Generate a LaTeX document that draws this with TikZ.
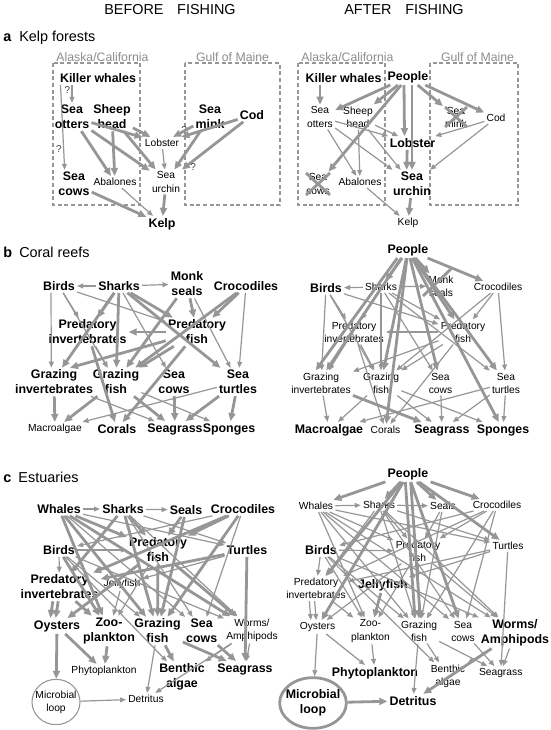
\documentclass[tikz,border=0pt]{standalone}
\usepackage{fontspec}
\setmainfont{Liberation Sans}
\usepackage{xcolor}
\usepackage{tikz}
\usetikzlibrary{arrows.meta, shapes.geometric}

\definecolor{webgrey}{RGB}{150,150,150}
\definecolor{labelgrey}{RGB}{140,140,140}

\begin{document}
\begin{tikzpicture}[
    x=0.75pt, y=-0.75pt,
    big/.style={font=\fontsize{9.3}{11.2}\selectfont\bfseries, align=center, inner sep=1.5pt},
    small/.style={font=\fontsize{7.7}{9.8}\selectfont, align=center, inner sep=1.5pt},
    thn/.style={draw=webgrey, line width=0.9pt, -{Triangle[length=4.5pt, width=3.6pt]}},
    thk/.style={draw=webgrey, line width=2.1pt, -{Triangle[length=6pt, width=5.2pt]}},
    region/.style={draw=webgrey, dash pattern=on 3pt off 2pt, line width=0.8pt},
    regionlabel/.style={font=\fontsize{9.2}{11}\selectfont, text=labelgrey, inner sep=0pt},
    heading/.style={font=\fontsize{10.8}{13}\selectfont, inner sep=0pt},
    qmark/.style={font=\fontsize{7.5}{9}\selectfont, text=black!75, inner sep=1pt},
    strike/.style={draw=webgrey, line width=2.1pt},
    loopring/.style={ellipse, draw=webgrey, inner sep=-6pt}
]
    \useasboundingbox (0,0) rectangle (550,730);

    % Headings
    \node[heading, anchor=base] (before) at (170,15) {BEFORE\hspace{0.95em}FISHING};
    \node[heading, anchor=base] (after) at (404,15) {AFTER\hspace{0.95em}FISHING};
    \node[heading, anchor=base west] (ttlA) at (3,42) {\textbf{a}\hspace{0.55em}Kelp forests};
    \node[heading, anchor=base west] (ttlB) at (3,258) {\textbf{b}\hspace{0.5em}Coral reefs};
    \node[heading, anchor=base west] (ttlC) at (3,482) {\textbf{c}\hspace{0.5em}Estuaries};

    % ---------------- a: Kelp forests, before ----------------
    \draw[region] (53,63) rectangle (140,205);
    \draw[region] (185,63) rectangle (280,205);
    \node[regionlabel] (aLak) at (102.5,57) {Alaska/California};
    \node[regionlabel] (aLgm) at (232.5,57) {Gulf of Maine};

    \node[big] (aLkw) at (98,78) {Killer whales};
    \node[big] (aLotter) at (72,117) {Sea\\otters};
    \node[big] (aLsheep) at (112,117) {Sheep\\head};
    \node[big] (aLmink) at (210,117) {Sea\\mink};
    \node[big] (aLcod) at (252,115) {Cod};
    \node[small] (aLlob) at (162,143) {Lobster};
    \node[small] (aLurch) at (166,182) {Sea\\urchin};
    \node[big] (aLcow) at (74,184) {Sea\\cows};
    \node[small] (aLabal) at (115,182) {Abalones};
    \node[big] (aLkelp) at (162,224) {Kelp};

    \draw[thn] (aLkw.south -| aLotter) -- (aLotter) node[pos=0.3, left, qmark] {?};
    \draw[thn] ([xshift=2pt]aLkw.south west) -- ([xshift=-7pt]aLcow.north) node[pos=0.75, left, qmark] {?};
    \draw[thk] (aLotter) -- (aLabal);
    \draw[thk] (aLotter) -- (aLlob);
    \draw[thk] (aLotter) -- (aLurch);
    \draw[thk] (aLsheep) -- (aLabal);
    \draw[thk] (aLsheep) -- (aLlob);
    \draw[thk] (aLsheep) -- (aLurch);
    \draw[thk] (aLcod) -- (aLlob) node[pos=0.95, above, qmark] {?};
    \draw[thk] (aLmink) -- (aLlob);
    \draw[thk] (aLmink) -- (aLurch);
    \draw[thk] (aLcod) -- (aLurch) node[pos=0.95, right=2pt, qmark] {?};
    \draw[thn] (aLlob) -- (aLurch);
    \draw[thk] (aLurch) -- (aLkelp);
    \draw[thk] (aLcow) -- (aLkelp);
    \draw[thn] (aLabal) -- (aLkelp);

    % ---------------- a: Kelp forests, after ----------------
    \draw[region] (298,63) rectangle (385,205);
    \draw[region] (430,63) rectangle (518,205);
    \node[regionlabel] (aRak) at (347.5,57) {Alaska/California};
    \node[regionlabel] (aRgm) at (477.5,57) {Gulf of Maine};

    \node[big] (aRkw) at (343.5,78) {Killer whales};
    \node[big] (aRpeople) at (408,77) {People};
    \node[small] (aRotter) at (320,117) {Sea\\otters};
    \node[small] (aRsheep) at (358,117) {Sheep\\head};
    \node[small] (aRmink) at (456,117) {Sea\\mink};
    \node[small] (aRcod) at (496,118) {Cod};
    \node[big] (aRlob) at (412.5,143) {Lobster};
    \node[big] (aRurch) at (412,184) {Sea\\urchin};
    \node[small] (aRcow) at (318,184) {Sea\\cows};
    \node[small] (aRabal) at (360,182) {Abalones};
    \node[small] (aRkelp) at (408,223) {Kelp};

    \draw[thk] (aRkw.south -| aRotter) -- (aRotter);
    \draw[thk] (aRpeople) -- (aRotter);
    \draw[thk] (aRpeople) -- (aRsheep);
    \draw[thk] (aRpeople) -- (aRcow);
    \draw[thk] ([xshift=-3pt]aRpeople.south) -- ([xshift=-6pt]aRlob.north);
    \draw[thk] ([xshift=3pt]aRpeople.south) -- (aRurch.north);
    \draw[thk] ([xshift=-4pt]aRlob.south) -- ([xshift=-4pt]aRurch.north);
    \draw[thk] (aRpeople) -- (aRmink);
    \draw[thk] (aRpeople) -- (aRcod);
    \draw[thn] (aRotter) -- (aRlob);
    \draw[thn] (aRotter) -- (aRurch);
    \draw[thn] (aRotter) -- (aRabal);
    \draw[thn] (aRsheep) -- (aRabal);
    \draw[thn] (aRsheep) -- (aRlob);
    \draw[thn] (aRsheep) -- (aRurch);
    \draw[thn] (aRcod) -- (aRlob);
    \draw[thn] (aRcod) -- (aRurch);
    \draw[thk] (aRurch) -- (aRkelp);
    \draw[thn] (aRabal) -- (aRkelp);

    \draw[strike] ([shift={(-11,-10)}]aRmink.center) -- ([shift={(11,10)}]aRmink.center);
    \draw[strike] ([shift={(-11,10)}]aRmink.center) -- ([shift={(11,-10)}]aRmink.center);
    \draw[strike] ([shift={(-12,-11)}]aRcow.center) -- ([shift={(12,11)}]aRcow.center);
    \draw[strike] ([shift={(-12,11)}]aRcow.center) -- ([shift={(12,-11)}]aRcow.center);

    % ---------------- b: Coral reefs, before ----------------
    \node[big] (bLbirds) at (59,286) {Birds};
    \node[big] (bLsharks) at (119,286) {Sharks};
    \node[big] (bLmonk) at (187,284) {Monk\\seals};
    \node[big] (bLcroc) at (246,286) {Crocodiles};
    \node[big] (bLpinv) at (87.5,332) {Predatory\\invertebrates};
    \node[big] (bLpfish) at (197,332) {Predatory\\fish};
    \node[big] (bLginv) at (54,382) {Grazing\\invertebrates};
    \node[big] (bLgfish) at (116,382) {Grazing\\fish};
    \node[big] (bLcow) at (174,382) {Sea\\cows};
    \node[big] (bLturt) at (238,382) {Sea\\turtles};
    \node[small] (bLmacro) at (55,429) {Macroalgae};
    \node[big] (bLcoral) at (117,429) {Corals};
    \node[big] (bLgrass) at (175,429) {Seagrass};
    \node[big] (bLspong) at (229,429) {Sponges};

    \draw[thn] (bLsharks) -- (bLbirds);
    \draw[thn] (bLsharks) -- (bLmonk);
    \draw[thn] (bLbirds) -- (bLpinv);
    \draw[thn] (bLbirds) -- (bLpfish);
    \draw[thn] ([xshift=-6pt]bLbirds.south) -- ([xshift=-2pt]bLginv.north);
    \draw[thn] (bLbirds) -- (bLgfish);
    \draw[thk] (bLsharks) -- (bLpinv);
    \draw[thk] (bLsharks) -- ([xshift=6pt]bLginv.north);
    \draw[thk] (bLsharks) -- (bLgfish);
    \draw[thk] (bLsharks) -- (bLpfish);
    \draw[thn] (bLsharks) -- (bLcow);
    \draw[thk] (bLsharks) -- (bLturt);
    \draw[thk] (bLmonk) -- (bLpfish);
    \draw[thk] (bLmonk) -- (bLgfish);
    \draw[thn] (bLmonk) -- (bLturt);
    \draw[thk] (bLcroc) -- (bLpfish);
    \draw[thk] (bLcroc) -- (bLgfish);
    \draw[thn] (bLcroc) -- (bLturt);
    \draw[thk] (bLpfish) -- (bLpinv);
    \draw[thk] (bLpfish) -- ([xshift=12pt]bLginv.north);
    \draw[thk] (bLpfish) -- (bLgfish);
    \draw[thk] (bLpfish) -- (bLcoral);
    \draw[thk] (bLpinv) -- (bLcoral);
    \draw[thn] (bLpinv) -- (bLgfish);
    \draw[thk] (bLginv) -- (bLmacro);
    \draw[thn] (bLginv) -- (bLgrass);
    \draw[thk] (bLgfish) -- (bLmacro);
    \draw[thk] (bLgfish) -- (bLgrass);
    \draw[thn] (bLgfish) -- (bLspong);
    \draw[thk] (bLcow) -- (bLgrass);
    \draw[thk] (bLturt) -- (bLgrass);
    \draw[thk] (bLturt) -- (bLspong);
    \draw[thn] (bLturt) -- (bLmacro);

    % ---------------- b: Coral reefs, after ----------------
    \node[big] (bRpeople) at (408,250) {People};
    \node[big] (bRbirds) at (326,288) {Birds};
    \node[small] (bRsharks) at (381,287) {Sharks};
    \node[small] (bRmonk) at (441,286) {Monk\\seals};
    \node[small] (bRcroc) at (498,287) {Crocodiles};
    \node[small] (bRpinv) at (354,332) {Predatory\\invertebrates};
    \node[small] (bRpfish) at (463,332) {Predatory\\fish};
    \node[small] (bRginv) at (321,383) {Grazing\\invertebrates};
    \node[small] (bRgfish) at (381,383) {Grazing\\fish};
    \node[small] (bRcow) at (440.5,383) {Sea\\cows};
    \node[small] (bRturt) at (506,383) {Sea\\turtles};
    \node[big] (bRmacro) at (329,430) {Macroalgae};
    \node[small] (bRcoral) at (385.5,430) {Corals};
    \node[big] (bRgrass) at (442,430) {Seagrass};
    \node[big] (bRspong) at (503,430) {Sponges};

    \draw[thk] (bRpeople) -- (bRsharks);
    \draw[thk] ([xshift=-8pt]bRpeople.south) -- ([xshift=-4pt]bRginv.north);
    \draw[thk] ([xshift=-5pt]bRpeople.south) -- ([xshift=4pt]bRginv.north);
    \draw[thk] (bRpeople) -- (bRgfish);
    \draw[thk] (bRpeople) -- (bRcoral);
    \draw[thk] (bRpeople) -- (bRcow);
    \draw[thk] (bRpeople) -- (bRmonk);
    \draw[thk] (bRpeople) -- (bRpfish);
    \draw[thk] (bRpeople) -- (bRturt);
    \draw[thk] (bRpeople) -- (bRspong);
    \draw[thk] (bRpeople) -- (bRcroc);
    \draw[thn] (bRsharks) -- (bRbirds);
    \draw[thn] (bRsharks) -- (bRmonk);
    \draw[thn] (bRbirds) -- (bRpinv);
    \draw[thn] (bRbirds) -- (bRpfish);
    \draw[thn] (bRbirds) -- (bRginv);
    \draw[thn] (bRbirds) -- (bRgfish);
    \draw[thn] (bRsharks) -- (bRpinv);
    \draw[thn] (bRsharks) -- (bRginv);
    \draw[thn] (bRsharks) -- (bRgfish);
    \draw[thn] (bRsharks) -- (bRpfish);
    \draw[thn] (bRsharks) -- (bRcow);
    \draw[thn] (bRsharks) -- (bRturt);
    \draw[thn] (bRcroc) -- (bRpfish);
    \draw[thn] (bRcroc) -- (bRgfish);
    \draw[thn] (bRcroc) -- (bRturt);
    \draw[thn] (bRpfish) -- (bRpinv);
    \draw[thn] (bRpfish) -- (bRginv);
    \draw[thn] (bRpfish) -- (bRgfish);
    \draw[thn] (bRpfish) -- (bRcoral);
    \draw[thn] (bRpinv) -- (bRcoral);
    \draw[thn] (bRpinv) -- (bRgfish);
    \draw[thn] (bRginv) -- (bRmacro);
    \draw[thk] (bRginv) -- (bRgrass);
    \draw[thn] (bRgfish) -- (bRmacro);
    \draw[thn] (bRgfish) -- (bRgrass);
    \draw[thn] (bRgfish) -- (bRspong);
    \draw[thn] (bRcow) -- (bRgrass);
    \draw[thn] (bRturt) -- (bRspong);
    \draw[thn] (bRturt) -- (bRgrass);
    \draw[thn] (bRturt) -- (bRmacro);

    \draw[strike] ([shift={(-18,10)}]bRmonk.center) -- ([shift={(10,-17)}]bRmonk.center);

    % ---------------- c: Estuaries, before ----------------
    \node[big] (cLwhale) at (59,509) {Whales};
    \node[big] (cLsharks) at (123,509) {Sharks};
    \node[big] (cLseals) at (186,510) {Seals};
    \node[big] (cLcroc) at (243,509) {Crocodiles};
    \node[big] (cLbirds) at (59,550) {Birds};
    \node[big] (cLpfish) at (158,550) {Predatory\\fish};
    \node[big] (cLturt) at (247,550) {Turtles};
    \node[big] (cLpinv) at (59.5,587) {Predatory\\invertebrates};
    \node[small] (cLjelly) at (122,584) {Jellyfish};
    \node[big] (cLoyst) at (57,626) {Oysters};
    \node[big] (cLzoo) at (109,631) {Zoo-\\plankton};
    \node[big] (cLgfish) at (157.5,631) {Grazing\\fish};
    \node[big] (cLcow) at (201.7,631) {Sea\\cows};
    \node[small] (cLworm) at (252,630) {Worms/\\Amphipods};
    \node[small] (cLphyto) at (104,671) {Phytoplankton};
    \node[big] (cLbenth) at (182,677) {Benthic\\algae};
    \node[big] (cLgrass) at (245,669) {Seagrass};
    \node[small, loopring, line width=0.8pt, minimum width=36pt, minimum height=34pt] (cLmicro) at (56,702) {Microbial\\loop};
    \node[small] (cLdet) at (146,699) {Detritus};

    \draw[thn] (cLwhale) -- (cLsharks);
    \draw[thn] (cLsharks) -- (cLseals);
    \draw[thk] (cLwhale) -- (cLpfish);
    \draw[thk] (cLwhale) -- (cLgfish);
    \draw[thk] (cLwhale) -- (cLzoo);
    \draw[thn] (cLwhale) -- (cLturt);
    \draw[thn] (cLwhale) -- (cLcow);
    \draw[thk] (cLwhale) -- (cLworm);
    \draw[thk] (cLsharks) -- (cLpfish);
    \draw[thk] (cLsharks) -- (cLgfish);
    \draw[thk] (cLsharks) -- (cLpinv);
    \draw[thn] (cLsharks) -- (cLturt);
    \draw[thn] (cLsharks) -- (cLcow);
    \draw[thn] (cLsharks) -- (cLworm);
    \draw[thk] (cLseals) -- (cLpfish);
    \draw[thk] (cLseals) -- (cLgfish);
    \draw[thn] (cLcroc) -- (cLbirds);
    \draw[thk] (cLcroc) -- (cLpfish);
    \draw[thk] (cLcroc) -- (cLgfish);
    \draw[thn] (cLcroc) -- (cLcow);
    \draw[thk] (cLcroc) -- (cLpinv);
    \draw[thn] (cLbirds) -- (cLpfish);
    \draw[thn] (cLbirds) -- (cLpinv);
    \draw[thk] (cLbirds) -- (cLzoo);
    \draw[thn] (cLbirds) -- (cLgfish);
    \draw[thn] (cLbirds) -- (cLworm);
    \draw[thn] (cLbirds) -- (cLbenth);
    \draw[thk] (cLturt) -- (cLpinv);
    \draw[thn] (cLturt) -- (cLjelly);
    \draw[thk] (cLturt) -- (cLgrass);
    \draw[thk] (cLpfish) -- (cLoyst);
    \draw[thk] (cLpfish) -- (cLgfish);
    \draw[thn] (cLpfish) -- (cLzoo);
    \draw[thk] (cLpfish) -- (cLworm);
    \draw[thn] (cLjelly) -- (cLzoo);
    \draw[thk] ([xshift=-5pt]cLpinv.south) -- ([xshift=-5pt]cLoyst.north);
    \draw[thk] ([xshift=-1pt]cLpinv.south) -- ([xshift=-1pt]cLoyst.north);
    \draw[thk] (cLpinv) -- (cLzoo);
    \draw[thk] (cLoyst) -- (cLphyto);
    \draw[thk] (cLoyst) -- (cLmicro);
    \draw[thk] (cLzoo) -- (cLphyto);
    \draw[thk] (cLgfish) -- (cLbenth);
    \draw[thk] (cLgfish) -- (cLgrass);
    \draw[thn] (cLgfish) -- (cLdet);
    \draw[thk] (cLcow) -- (cLgrass);
    \draw[thn] (cLworm) -- (cLbenth);
    \draw[thn] (cLworm) -- (cLgrass);
    \draw[thn] (cLworm) -- (cLdet);
    \draw[thn] (cLmicro) -- (cLdet);

    % ---------------- c: Estuaries, after ----------------
    \node[big] (cRpeople) at (408,474) {People};
    \node[small] (cRwhale) at (316,506) {Whales};
    \node[small] (cRsharks) at (379,505) {Sharks};
    \node[small] (cRseals) at (443,506) {Seals};
    \node[small] (cRcroc) at (497,505) {Crocodiles};
    \node[big] (cRbirds) at (321,550) {Birds};
    \node[small] (cRpfish) at (418,551) {Predatory\\fish};
    \node[small] (cRturt) at (508,546) {Turtles};
    \node[small] (cRpinv) at (316,588.5) {Predatory\\invertebrates};
    \node[big] (cRjelly) at (383,585) {Jellyfish};
    \node[small] (cRoyst) at (317.5,627) {Oysters};
    \node[small] (cRzoo) at (370.5,631) {Zoo-\\plankton};
    \node[small] (cRgfish) at (419,631) {Grazing\\fish};
    \node[small] (cRcow) at (463,631) {Sea\\cows};
    \node[big] (cRworm) at (515,633) {Worms/\\Amphipods};
    \node[big] (cRphyto) at (375,673) {Phytoplankton};
    \node[small] (cRbenth) at (448,676) {Benthic\\algae};
    \node[small] (cRgrass) at (500.7,673) {Seagrass};
    \node[big, loopring, line width=2.1pt, minimum width=50pt, minimum height=38pt] (cRmicro) at (313,703) {Microbial\\loop};
    \node[big] (cRdet) at (413,700.7) {Detritus};

    \draw[thk] (cRpeople) -- (cRwhale);
    \draw[thk] (cRpeople) -- (cRsharks);
    \draw[thk] (cRpeople) -- (cRseals);
    \draw[thk] (cRpeople) -- (cRcroc);
    \draw[thk] (cRpeople) -- (cRturt);
    \draw[thk] (cRpeople) -- (cRpinv);
    \draw[thk] (cRpeople) -- (cRoyst);
    \draw[thk] ([xshift=-2pt]cRpeople.south) -- ([xshift=-3pt]cRgfish.north);
    \draw[thk] ([xshift=2pt]cRpeople.south) -- ([xshift=1pt]cRgfish.north);
    \draw[thk] (cRpeople) -- (cRcow);
    \draw[thn] (cRwhale) -- (cRsharks);
    \draw[thn] (cRsharks) -- (cRseals);
    \draw[thn] (cRwhale) -- (cRpfish);
    \draw[thn] (cRwhale) -- (cRgfish);
    \draw[thn] (cRwhale) -- (cRzoo);
    \draw[thn] (cRwhale) -- (cRturt);
    \draw[thn] (cRwhale) -- (cRcow);
    \draw[thn] (cRwhale) -- (cRworm);
    \draw[thn] (cRsharks) -- (cRpfish);
    \draw[thn] (cRsharks) -- (cRgfish);
    \draw[thn] (cRsharks) -- (cRpinv);
    \draw[thn] (cRsharks) -- (cRturt);
    \draw[thn] (cRsharks) -- (cRcow);
    \draw[thn] (cRsharks) -- (cRworm);
    \draw[thn] (cRseals) -- (cRpfish);
    \draw[thn] (cRseals) -- (cRgfish);
    \draw[thn] (cRcroc) -- (cRbirds);
    \draw[thn] (cRcroc) -- (cRpfish);
    \draw[thn] (cRcroc) -- (cRgfish);
    \draw[thn] (cRcroc) -- (cRcow);
    \draw[thn] (cRcroc) -- (cRpinv);
    \draw[thn] (cRbirds) -- (cRpfish);
    \draw[thn] (cRbirds) -- (cRpinv);
    \draw[thn] (cRbirds) -- (cRzoo);
    \draw[thn] (cRbirds) -- (cRgfish);
    \draw[thn] (cRbirds) -- (cRworm);
    \draw[thn] (cRbirds) -- (cRbenth);
    \draw[thn] (cRturt) -- (cRpinv);
    \draw[thn] (cRturt) -- (cRjelly);
    \draw[thn] (cRturt) -- (cRgrass);
    \draw[thn] (cRpfish) -- (cRoyst);
    \draw[thn] (cRpfish) -- (cRgfish);
    \draw[thn] (cRpfish) -- (cRzoo);
    \draw[thn] (cRpfish) -- (cRworm);
    \draw[thk] (cRjelly) -- (cRzoo);
    \draw[thn] ([xshift=-5pt]cRpinv.south) -- ([xshift=-5pt]cRoyst.north);
    \draw[thn] ([xshift=-1pt]cRpinv.south) -- ([xshift=-1pt]cRoyst.north);
    \draw[thn] (cRpinv) -- (cRzoo);
    \draw[thn] (cRoyst) -- (cRphyto);
    \draw[thn] (cRoyst) -- (cRmicro);
    \draw[thn] (cRzoo) -- (cRphyto);
    \draw[thn] (cRgfish) -- (cRbenth);
    \draw[thn] (cRgfish) -- (cRgrass);
    \draw[thn] (cRgfish) -- (cRdet);
    \draw[thn] (cRcow) -- (cRgrass);
    \draw[thn] (cRworm) -- (cRbenth);
    \draw[thn] (cRworm) -- (cRgrass);
    \draw[thk] (cRworm) -- (cRdet);
    \draw[thk] (cRmicro) -- (cRdet);
\end{tikzpicture}
\end{document}
